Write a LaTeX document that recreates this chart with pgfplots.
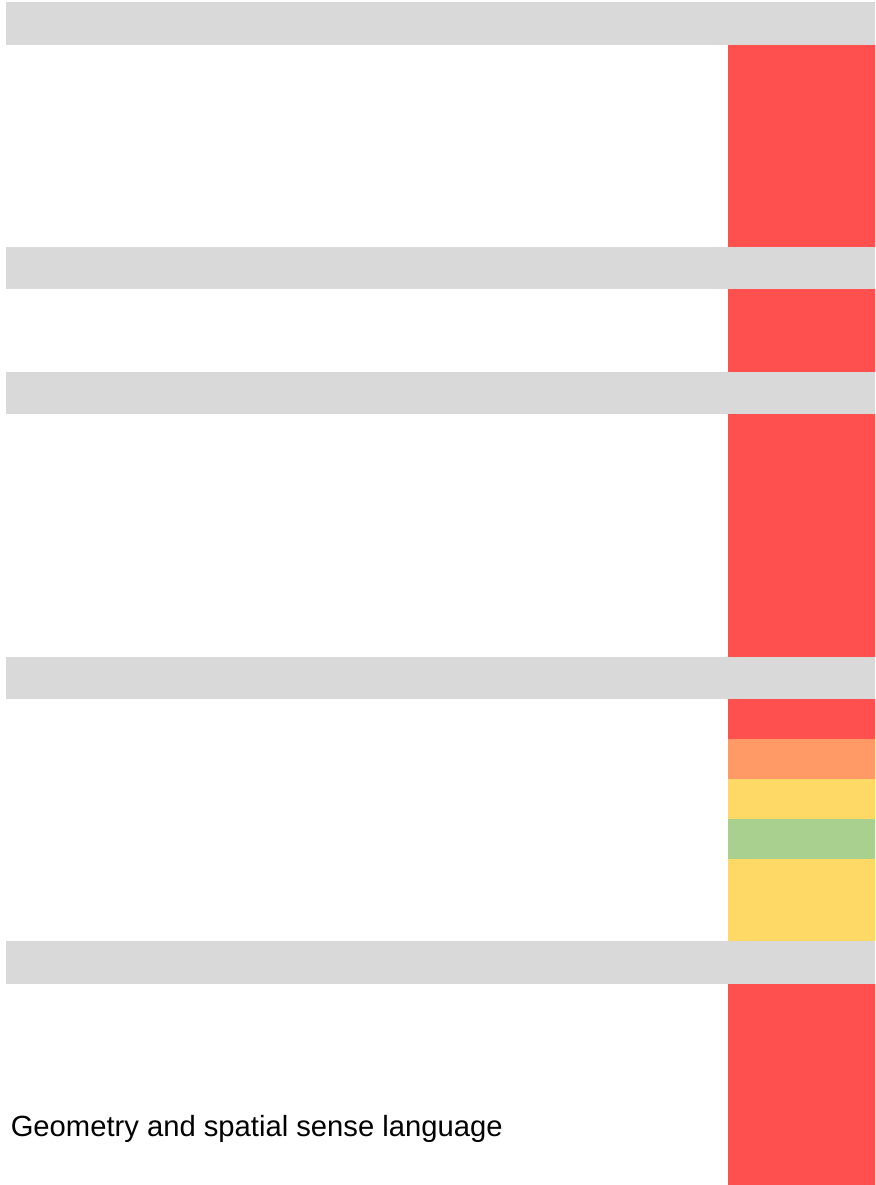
\documentclass[border=0pt]{standalone}
\usepackage{pgfplots}
\pgfplotsset{compat=1.18}
\usepackage{fontspec}
\setmainfont{Liberation Sans}
\definecolor{hdr}{HTML}{D9D9D9}
\definecolor{cred}{HTML}{FF5050}
\definecolor{corange}{HTML}{FF9966}
\definecolor{cyellow}{HTML}{FFD966}
\definecolor{cgreen}{HTML}{A9D08E}
\begin{document}
\begin{tikzpicture}
\begin{axis}[
  scale only axis, width=656.25pt, height=888.75pt,
  xmin=0, xmax=875, ymin=0, ymax=1185, y dir=reverse,
  hide axis, clip=true,
]
% section header rows (grey)
\addplot[fill=hdr, draw=none] coordinates {(6,2) (875,2) (875,45) (6,45)} -- cycle;
\addplot[fill=hdr, draw=none] coordinates {(6,247) (875,247) (875,289) (6,289)} -- cycle;
\addplot[fill=hdr, draw=none] coordinates {(6,372) (875,372) (875,414) (6,414)} -- cycle;
\addplot[fill=hdr, draw=none] coordinates {(6,657) (875,657) (875,699) (6,699)} -- cycle;
\addplot[fill=hdr, draw=none] coordinates {(6,941) (875,941) (875,984) (6,984)} -- cycle;
% rating cells
\addplot[fill=cred, draw=none] coordinates {(728,45) (875,45) (875,247) (728,247)} -- cycle;
\addplot[fill=cred, draw=none] coordinates {(728,289) (875,289) (875,372) (728,372)} -- cycle;
\addplot[fill=cred, draw=none] coordinates {(728,414) (875,414) (875,657) (728,657)} -- cycle;
\addplot[fill=cred, draw=none] coordinates {(728,699) (875,699) (875,739) (728,739)} -- cycle;
\addplot[fill=corange, draw=none] coordinates {(728,739) (875,739) (875,779) (728,779)} -- cycle;
\addplot[fill=cyellow, draw=none] coordinates {(728,779) (875,779) (875,819) (728,819)} -- cycle;
\addplot[fill=cgreen, draw=none] coordinates {(728,819) (875,819) (875,859) (728,859)} -- cycle;
\addplot[fill=cyellow, draw=none] coordinates {(728,859) (875,859) (875,941) (728,941)} -- cycle;
\addplot[fill=cred, draw=none] coordinates {(728,984) (875,984) (875,1185) (728,1185)} -- cycle;
\node[anchor=base west, inner sep=0pt, font=\fontsize{21.9}{26}\selectfont] at (axis cs:10.5,1136) {Geometry and spatial sense language};
\path (rel axis cs:0,0) rectangle (rel axis cs:1,1);
\end{axis}
\end{tikzpicture}
\end{document}
